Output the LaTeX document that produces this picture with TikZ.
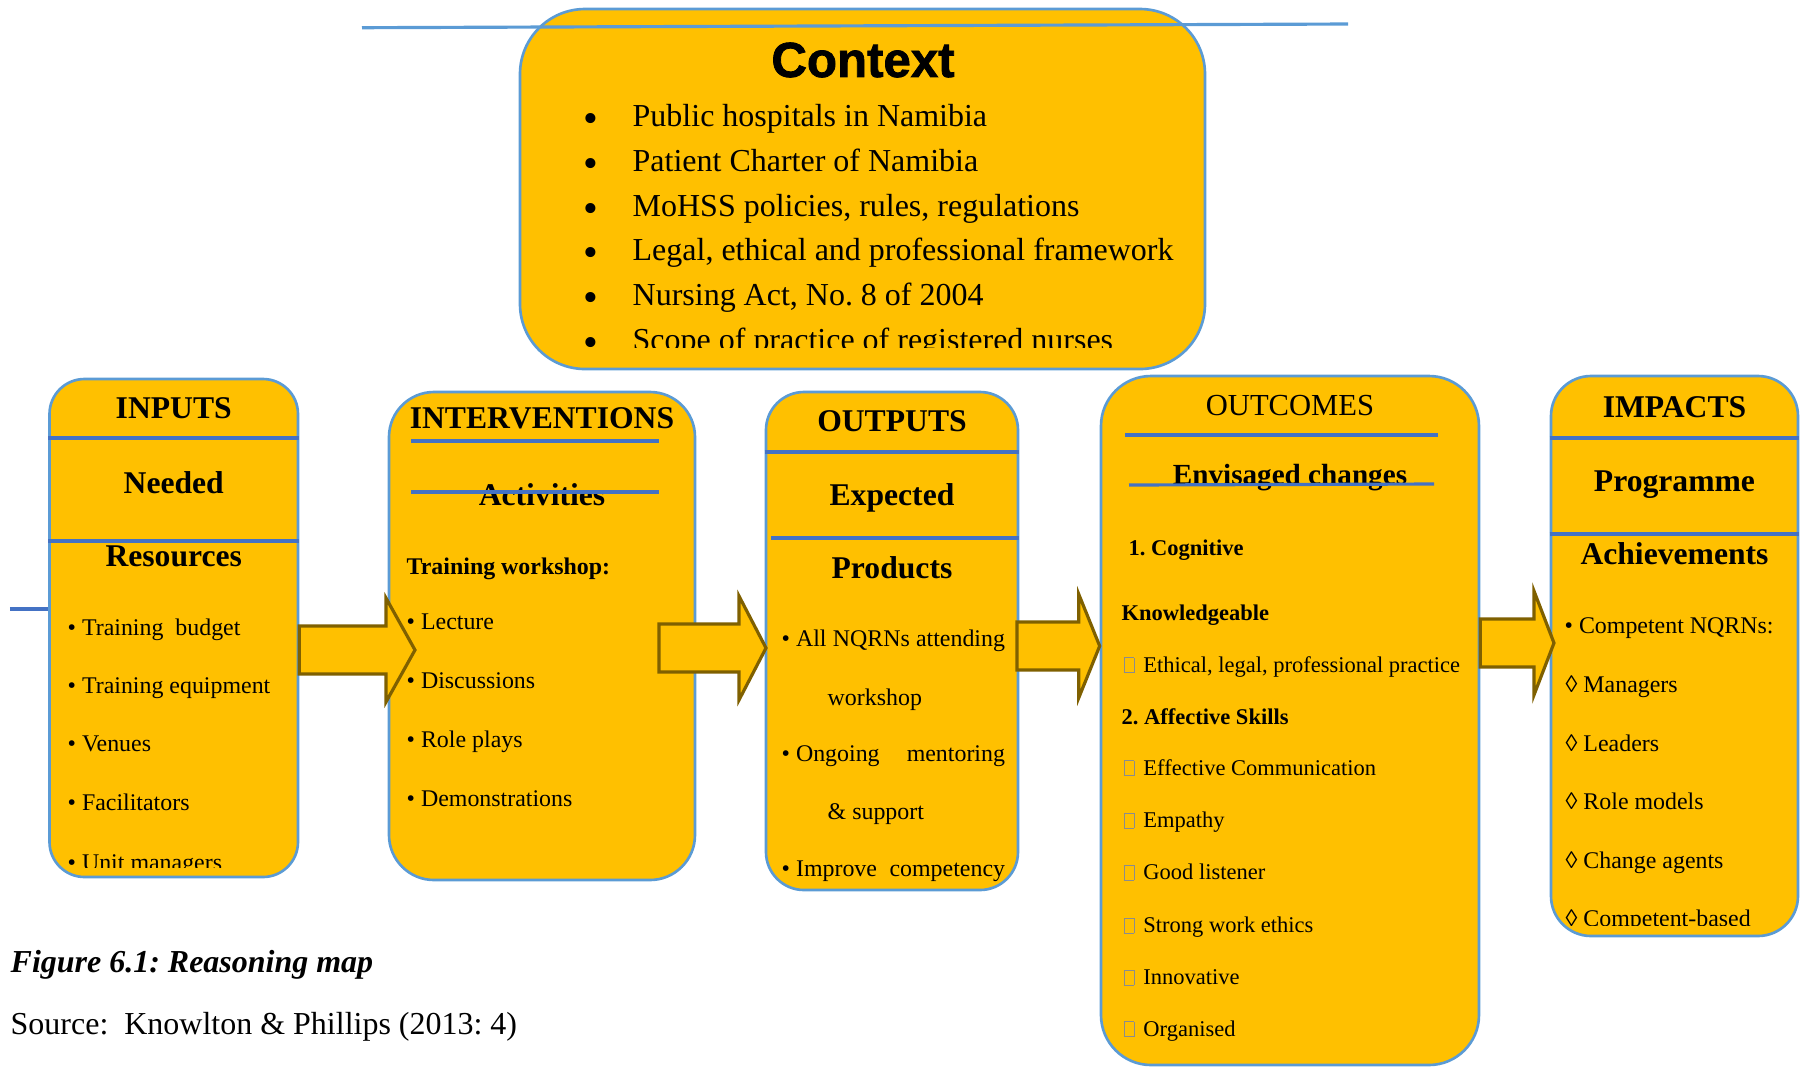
\documentclass[tikz,border=0pt]{standalone}
\usepackage{xcolor}
\usepackage{fontspec}
\setmainfont{Liberation Serif}
\newfontfamily\ctxfont[BoldFeatures={FakeBold=1.6}]{Liberation Sans}
\usetikzlibrary{calc}
\definecolor{gold}{HTML}{FFC000}
\definecolor{boxblue}{HTML}{5B9BD5}
\definecolor{lineblue}{HTML}{4472C4}
\definecolor{arrowbrown}{HTML}{7F6000}
\definecolor{tofugray}{HTML}{8C8C8C}
% empty glyph box, as the source prints it
\newcommand{\nochar}{{\color{tofugray}\setlength{\fboxsep}{0pt}\setlength{\fboxrule}{0.25pt}\fbox{\rule{0pt}{1.4mm}\rule{0.9mm}{0pt}}}}
% block arrow: tail, tip, head length
\newcommand{\flowarrow}[3]{%
  \draw[flowarr] let \p1=(#1), \p2=(#2) in
    (\x1,\y1+2.4mm) -- (\x2-#3,\y1+2.4mm) -- (\x2-#3,\y1+5.2mm) -- (\x2,\y1)
    -- (\x2-#3,\y1-5.2mm) -- (\x2-#3,\y1-2.4mm) -- (\x1,\y1-2.4mm) -- cycle;}
\frenchspacing

\begin{document}
\begin{tikzpicture}[
    x=0.1mm, y=-0.1mm,
    stage/.style={draw=boxblue, line width=0.75pt, fill=gold, inner sep=0pt},
    divider/.style={draw=lineblue, line width=0.9pt},
    head/.style={font=\fontsize{9}{10}\selectfont\bfseries, inner sep=0pt, anchor=mid},
    item/.style={font=\fontsize{6.8}{8}\selectfont, inner sep=0pt, anchor=mid west},
    sitem/.style={font=\fontsize{6.4}{8}\selectfont, inner sep=0pt, anchor=mid west},
    sbold/.style={font=\fontsize{6.4}{8}\selectfont\bfseries, inner sep=0pt, anchor=mid west},
    ctxitem/.style={font=\fontsize{9.1}{11}\selectfont, inner sep=0pt, anchor=mid west},
    bigdot/.style={font=\fontsize{12}{12}\selectfont, inner sep=0pt, anchor=base,
                   text height=1.4mm, text depth=0pt},
    flowarr/.style={draw=arrowbrown, fill=gold, line width=0.9pt, line join=miter},
]
\useasboundingbox (0,0) rectangle (1804,1066);
% context box on top
\node[stage, rounded corners=6.5mm, minimum width=68.5mm, minimum height=36mm] (ctx) at (862.5,189) {};
\node[font=\ctxfont\bfseries\fontsize{14}{16}\selectfont, inner sep=0pt] (ctxtitle) at (863,60) {Context};
\begin{scope}
  \clip (520,9) rectangle (1205,347);
  \foreach \y/\t [count=\i] in {118/Public hospitals in Namibia, 163/Patient Charter of Namibia,
      208/{MoHSS policies, rules, regulations}, 252/{Legal, ethical and professional framework},
      297/{Nursing Act, No. 8 of 2004}, 342/Scope of practice of registered nurses}
  {
    \node[bigdot] (ctxb\i) at (591,\y+14) {\textbullet};
    \node[ctxitem] (ctx\i) at (632,\y) {\t};
  }
\end{scope}
\draw[boxblue, line width=0.9pt] (362,27.7) -- (1348,24);

% the five stages
\node[stage, rounded corners=3.5mm, minimum width=24.85mm, minimum height=49.8mm] (inputs) at (173.75,628) {};
\node[stage, rounded corners=4.5mm, minimum width=30.6mm, minimum height=48.8mm] (interv) at (542,636) {};
\node[stage, rounded corners=3.8mm, minimum width=25.2mm, minimum height=49.8mm] (outputs) at (892,641) {};
\node[stage, rounded corners=5mm, minimum width=37.8mm, minimum height=68.9mm] (outcomes) at (1290,720.5) {};
\node[stage, rounded corners=4mm, minimum width=24.7mm, minimum height=56mm] (impacts) at (1674.5,656) {};

% inputs
\draw[lineblue, line width=0.9pt] (10,609) -- (inputs.west |- 0,609);
\draw[divider] (inputs.west |- 0,438) -- (inputs.east |- 0,438);
\draw[divider] (inputs.west |- 0,541) -- (inputs.east |- 0,541);
\node[head] (inh1) at (inputs.center |- 0,410) {INPUTS};
\node[head] (inh2) at (inputs.center |- 0,485) {Needed};
\node[head] (inh3) at (inputs.center |- 0,558) {Resources};
\begin{scope}
  \clip (49,379) rectangle (298,867);
  \foreach \y/\t [count=\i] in {627/{Training\ \ budget}, 685/Training equipment, 743/Venues,
      802/Facilitators, 862/Unit managers}
    \node[item] (in\i) at (67,\y) {\textbullet\ \t};
\end{scope}

% interventions
\node[head] (ivh1) at (interv.center |- 0,420) {INTERVENTIONS};
\draw[divider] (411,441) -- (659,441);
\node[head] (ivh2) at (interv.center |- 0,497) {Activities};
\draw[divider] (411,492) -- (659,492);
\node[item, font=\fontsize{6.8}{8}\selectfont\bfseries] (ivtw) at (406,566) {Training workshop:};
\foreach \y/\t [count=\i] in {621/Lecture, 680/Discussions, 739/Role plays, 798/Demonstrations}
  \node[item] (iv\i) at (406,\y) {\textbullet\ \t};

% outputs
\draw[divider] (outputs.west |- 0,452) -- (outputs.east |- 0,452);
\draw[divider] (771,538) -- (outputs.east |- 0,538);
\node[head] (oph1) at (outputs.center |- 0,423) {OUTPUTS};
\node[head] (oph2) at (outputs.center |- 0,497) {Expected};
\node[head] (oph3) at (outputs.center |- 0,570) {Products};
\node[item] (op1) at (781,638) {\textbullet\ \makebox[20.9mm][s]{All NQRNs attending}};
\node[item] (op2) at (827,697) {workshop};
\node[item] (op3) at (781,753) {\textbullet\ \makebox[20.9mm][s]{Ongoing mentoring}};
\node[item] (op4) at (827,811) {\& support};
\node[item] (op5) at (781,868) {\textbullet\ \makebox[20.9mm][s]{Improve\ \ competency}};

% outcomes
\node[head, font=\fontsize{8.7}{10}\selectfont] (och1) at (outcomes.center |- 0,407) {OUTCOMES};
\draw[divider] (1125,435) -- (1438,435);
\node[head, font=\fontsize{8.3}{10}\selectfont\bfseries] (och2) at (outcomes.center |- 0,476) {Envisaged changes};
\draw[divider] (1129,485) -- (1434,484);
\node[sbold] (oc1) at (1128,547) {1. Cognitive};
\node[sbold] (oc2) at (1121,612) {Knowledgeable};
\node[sbold] (oc3) at (1121,716) {2. Affective Skills};
\foreach \y/\t [count=\i] in {664/{Ethical, legal, professional practice}, 767/Effective Communication,
    819.6/Empathy, 871.6/Good listener, 924.8/Strong work ethics, 976.7/Innovative, 1028/Organised}
  \node[sitem] (ocs\i) at (1123,\y) {\nochar\hspace{0.9mm}\t};

% impacts
\draw[divider] (impacts.west |- 0,438) -- (impacts.east |- 0,438);
\draw[divider] (impacts.west |- 0,534) -- (impacts.east |- 0,534);
\node[head] (imh1) at (impacts.center |- 0,409) {IMPACTS};
\node[head] (imh2) at (impacts.center |- 0,483) {Programme};
\node[head] (imh3) at (impacts.center |- 0,556) {Achievements};
\node[item] (im0) at (1564,625) {\textbullet\ Competent NQRNs:};
\begin{scope}
  \clip (1551,376) rectangle (1798,925);
  \foreach \y/\t [count=\i] in {684/Managers, 743/Leaders, 801/Role models, 860/Change agents,
      918/Competent-based}
    \node[item] (im\i) at (1565,\y) {◊ \t};
\end{scope}

% block arrows between the stages
\coordinate (a1t) at (inputs.east |- 0,650);  \coordinate (a1h) at (415,650);
\coordinate (a2t) at (659,648);               \coordinate (a2h) at (766,648);
\coordinate (a3t) at (1017,646);              \coordinate (a3h) at (outcomes.west |- 0,646);
\coordinate (a4t) at (outcomes.east |- 0,643); \coordinate (a4h) at (1554,643);
\flowarrow{a1t}{a1h}{2.9mm}
\flowarrow{a2t}{a2h}{2.7mm}
\flowarrow{a3t}{a3h}{2.1mm}
\flowarrow{a4t}{a4h}{2.0mm}

% caption
\node[anchor=mid west, inner sep=0pt, font=\fontsize{9.1}{11}\selectfont\bfseries\itshape] (figcap) at (10,964) {Figure 6.1: Reasoning map};
\node[anchor=mid west, inner sep=0pt, font=\fontsize{9.1}{11}\selectfont] (figsrc) at (10,1026) {Source:\ \ Knowlton \& Phillips (2013: 4)};
\end{tikzpicture}
\end{document}
